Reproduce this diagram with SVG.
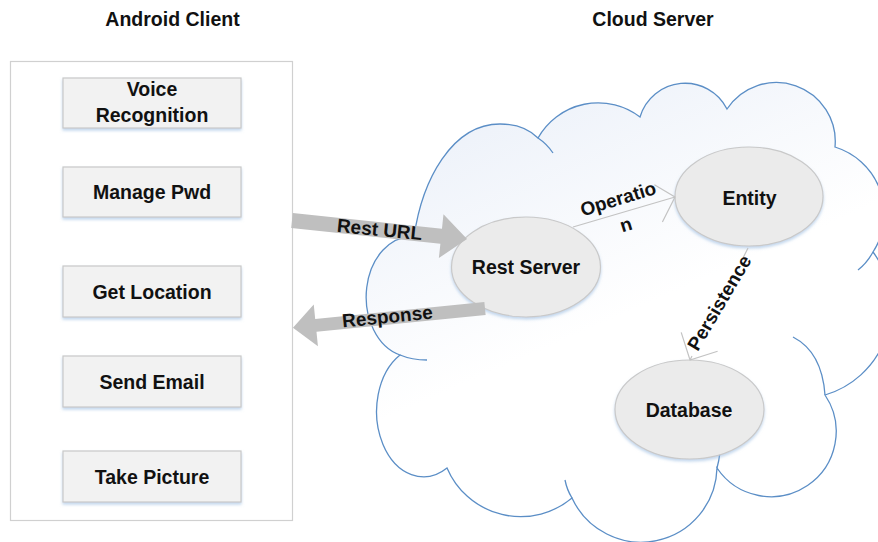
<svg xmlns="http://www.w3.org/2000/svg" width="878" height="542" viewBox="0 0 878 542">
<defs>
  <linearGradient id="cloudFill" x1="0" y1="0" x2="0.5" y2="1">
    <stop offset="0" stop-color="#e8eef8"/>
    <stop offset="0.6" stop-color="#ffffff"/>
  </linearGradient>
  <filter id="glow" x="-10%" y="-10%" width="120%" height="130%">
    <feDropShadow dx="0" dy="2" stdDeviation="1.6" flood-color="#8fb4de" flood-opacity="0.55"/>
  </filter>
  <style>
    .t { font-family: "Liberation Sans", Arial, sans-serif; font-weight: bold; font-size: 19.5px; fill: #111; text-anchor: middle; }
    .lbl { font-family: "Liberation Sans", Arial, sans-serif; font-weight: bold; font-size: 19px; fill: #111; text-anchor: middle; }
    .box { fill: #f2f2f2; stroke: #c9c9c9; stroke-width: 1.2; filter: url(#glow); }
    .ell { fill: #ebebeb; stroke: #c9c9c9; stroke-width: 1.2; filter: url(#glow); }
    .conn { fill: none; stroke: #c3c3c3; stroke-width: 1.2; }
    .blk { fill: #bfbfbf; }
    .cloud { fill: url(#cloudFill); stroke: #5b8ec6; stroke-width: 1.3; }
    .inner { fill: none; stroke: #5b8ec6; stroke-width: 1.3; }
  </style>
</defs>
<rect width="878" height="542" fill="#ffffff"/>

<text class="t" x="172.5" y="26">Android Client</text>
<text class="t" x="653" y="26">Cloud Server</text>

<g id="android-client">
  <rect x="10.5" y="61.5" width="282" height="459" fill="#ffffff" stroke="#d0d0d0" stroke-width="1.2"/>
</g>

<g id="voice-recognition">
  <rect class="box" x="63" y="78" width="178" height="50"/>
  <text class="t" x="152" y="96">Voice</text>
  <text class="t" x="152" y="122">Recognition</text>
</g>
<g id="manage-pwd">
  <rect class="box" x="63" y="167" width="178" height="50"/>
  <text class="t" x="152" y="198.5">Manage Pwd</text>
</g>
<g id="get-location">
  <rect class="box" x="63" y="266" width="178" height="51"/>
  <text class="t" x="152" y="298.5">Get Location</text>
</g>
<g id="send-email">
  <rect class="box" x="63" y="356" width="178" height="51"/>
  <text class="t" x="152" y="388.5">Send Email</text>
</g>
<g id="take-picture">
  <rect class="box" x="63" y="451" width="178" height="51"/>
  <text class="t" x="152" y="483.5">Take Picture</text>
</g>

<g id="cloud-server">
  <path class="cloud" d="M414,237
    C422,180 452,124 500,124
    C518,124 530,130 538,138
    A69,69 0 0 1 640,117
    A47,47 0 0 1 727,109
    A59,59 0 0 1 835,147
    A70,70 0 0 1 873,252
    A92,92 0 0 1 825,395
    A63,63 0 0 1 717,468
    A76,76 0 0 1 572,498
    A80,80 0 0 1 447,468
    A46,64 0 0 1 400,355
    A45,60 0 0 1 414,237 Z"/>
  <path class="inner" d="M538,138 Q547,144 553,153"/>
  <path class="inner" d="M873,252 Q867,263 858,270"/>
  <path class="inner" d="M793,337 Q822,352 825,395"/>
  <path class="inner" d="M720,452 Q719,461 717,468"/>
  <path class="inner" d="M572,498 Q567,490 565,480"/>
  <path class="inner" d="M400,355 Q412,360 427,360"/>
</g>

<g id="rest-server">
  <ellipse class="ell" cx="526" cy="267" rx="74.5" ry="50"/>
  <text class="t" x="526" y="274">Rest Server</text>
</g>
<g id="entity">
  <ellipse class="ell" cx="749" cy="196.5" rx="74" ry="49.5"/>
  <text class="t" x="749.5" y="205">Entity</text>
</g>
<g id="database">
  <ellipse class="ell" cx="689.5" cy="409.5" rx="74.5" ry="49.5"/>
  <text class="t" x="689" y="417">Database</text>
</g>

<g id="connectors">
  <path class="conn" d="M573,227 L675,197 M654.4,184.7 L675,197 L662.4,222"/>
  <path class="conn" d="M748,248 L743,258 M692,356 L690,360 M681.2,332.4 L690,360 L717.6,351.2"/>
  <polygon class="blk" transform="translate(292,220.5) rotate(6)" points="0,-7.5 150,-7.5 150,-22 176,0 150,22 150,7.5 0,7.5"/>
  <polygon class="blk" transform="translate(485,308.5) rotate(174.3)" points="0,-6.5 170,-6.5 170,-21 193,0 170,21 170,6.5 0,6.5"/>
</g>

<g id="labels">
  <text class="lbl" transform="translate(379,236) rotate(5.6)">Rest URL</text>
  <text class="lbl" transform="translate(388,323) rotate(-5.7)">Response</text>
  <g transform="translate(620,205) rotate(-17)">
    <text class="lbl" x="0" y="0">Operatio</text>
    <text class="lbl" x="0" y="27">n</text>
  </g>
  <text class="lbl" transform="translate(725,306) rotate(-59.4)">Persistence</text>
</g>
</svg>
